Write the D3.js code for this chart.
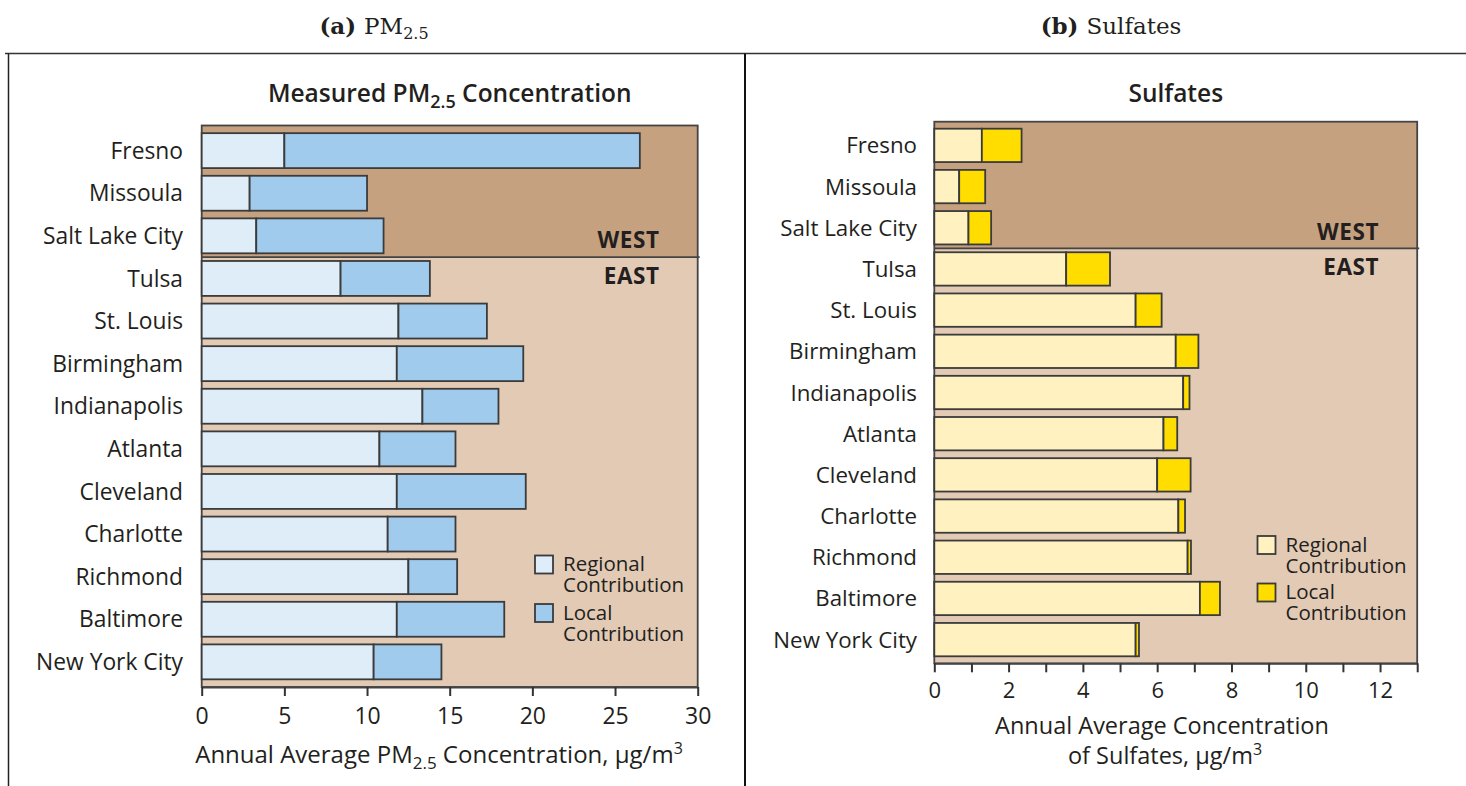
<!DOCTYPE html>
<html>
<head>
<meta charset="utf-8">
<script src="https://cdn.jsdelivr.net/npm/d3@7"></script>
<style>
  html, body { margin: 0; padding: 0; background: #fff; }
  svg { display: block; }
  text { fill: #231f20; }
</style>
</head>
<body>
<svg id="fig" width="1466" height="786"></svg>
<script>
// Cities, ordered top to bottom; the first three are western sites.
const cities = ["Fresno", "Missoula", "Salt Lake City", "Tulsa", "St. Louis", "Birmingham",
  "Indianapolis", "Atlanta", "Cleveland", "Charlotte", "Richmond", "Baltimore", "New York City"];
const westCount = 3;

// PM2.5, annual average, µg/m3
const pmRegional = [5.0, 2.9, 3.3, 8.4, 11.9, 11.8, 13.35, 10.75, 11.8, 11.25, 12.5, 11.8, 10.4];
const pmLocal    = [21.5, 7.1, 7.7, 5.4, 5.35, 7.65, 4.6, 4.6, 7.8, 4.1, 2.95, 6.5, 4.1];
const pmTicks = [0, 5, 10, 15, 20, 25, 30];

// Sulfates, annual average, µg/m3
const soRegional = [1.28, 0.67, 0.92, 3.55, 5.42, 6.5, 6.7, 6.17, 6.0, 6.57, 6.82, 7.15, 5.42];
const soLocal    = [1.07, 0.70, 0.61, 1.18, 0.70, 0.61, 0.17, 0.37, 0.90, 0.18, 0.09, 0.54, 0.09];
const soTicks = [0, 1, 2, 3, 4, 5, 6, 7, 8, 9, 10, 11, 12, 13];

const legendLabels = [["Regional", "Contribution"], ["Local", "Contribution"]];

const svg = d3.select("#fig");
const SANS = "'Open Sans', 'Noto Sans', sans-serif";
const SERIF = "'DejaVu Serif', 'Liberation Serif', serif";
const INK = "#231f20";
const EDGE = "#3b3b3b";

// Figure frame and separators
svg.append("line").attr("x1", 5).attr("x2", 1466).attr("y1", 53.5).attr("y2", 53.5)
  .attr("stroke", "#333").attr("stroke-width", 1.5);
svg.append("line").attr("x1", 8.5).attr("x2", 8.5).attr("y1", 53.5).attr("y2", 786)
  .attr("stroke", "#222").attr("stroke-width", 1.5);
svg.append("line").attr("x1", 745).attr("x2", 745).attr("y1", 53.5).attr("y2", 786)
  .attr("stroke", "#111").attr("stroke-width", 2);

// Panel captions
function caption(cx, tag, parts) {
  const t = svg.append("text").attr("x", cx).attr("y", 34).attr("text-anchor", "middle")
    .style("font-family", SERIF).style("font-size", "23px");
  t.append("tspan").style("font-weight", "bold").text(tag + " ");
  parts.forEach(p => {
    const s = t.append("tspan").text(p.t);
    if (p.sub) s.attr("font-size", "16px").attr("dy", 5);
  });
}
caption(374, "(a)", [{ t: "PM" }, { t: "2.5", sub: true }]);
caption(1111, "(b)", [{ t: "Sulfates" }]);

function drawPanel(cfg) {
  const g = svg.append("g");
  const x = d3.scaleLinear().domain(cfg.domain).range([cfg.left, cfg.right]);
  const y = d3.scaleBand().domain(cities).range([cfg.top, cfg.bottom])
    .paddingInner(cfg.padIn).paddingOuter(cfg.padOut);
  const divY = y(cities[westCount]) - y.step() * cfg.padIn / 2;

  // West / East backgrounds
  g.append("rect").attr("x", cfg.left).attr("y", cfg.top)
    .attr("width", cfg.right - cfg.left).attr("height", divY - cfg.top).attr("fill", "#c5a17f");
  g.append("rect").attr("x", cfg.left).attr("y", divY)
    .attr("width", cfg.right - cfg.left).attr("height", cfg.bottom - divY).attr("fill", "#e2cab4");
  g.append("rect").attr("x", cfg.left).attr("y", cfg.top)
    .attr("width", cfg.right - cfg.left).attr("height", cfg.bottom - cfg.top)
    .attr("fill", "none").attr("stroke", "#444").attr("stroke-width", 1.8);
  g.append("line").attr("x1", cfg.left).attr("x2", cfg.right + 2).attr("y1", divY).attr("y2", divY)
    .attr("stroke", "#444").attr("stroke-width", 1.8);

  // Region labels
  const rx = cfg.right - 38;
  [["WEST", -8.8], ["EAST", 26.5]].forEach(([lab, off]) => {
    g.append("text").attr("x", rx).attr("y", divY + off).attr("text-anchor", "end")
      .style("font-family", SANS).style("font-weight", "bold").style("font-size", "22.5px")
      .style("letter-spacing", "0.6px").text(lab);
  });

  // Stacked bars
  const rows = cities.map((c, i) => ({ city: c, reg: cfg.regional[i], loc: cfg.local[i] }));
  const bars = g.selectAll("g.row").data(rows).join("g").attr("class", "row");
  bars.append("rect")
    .attr("x", x(0)).attr("y", d => y(d.city))
    .attr("width", d => x(d.reg) - x(0)).attr("height", y.bandwidth())
    .attr("fill", cfg.colors[0]).attr("stroke", EDGE).attr("stroke-width", 1.8);
  bars.append("rect")
    .attr("x", d => x(d.reg)).attr("y", d => y(d.city))
    .attr("width", d => x(d.reg + d.loc) - x(d.reg)).attr("height", y.bandwidth())
    .attr("fill", cfg.colors[1]).attr("stroke", EDGE).attr("stroke-width", 1.8);

  // City labels
  g.selectAll("text.city").data(cities).join("text").attr("class", "city")
    .attr("x", cfg.labelX).attr("y", d => y(d) + y.bandwidth() / 2).attr("dy", "0.36em")
    .attr("text-anchor", "end").style("font-family", SANS).style("font-size", cfg.cityFont).text(d => d);

  // Bottom axis
  const ax = g.append("g").attr("transform", `translate(0,${cfg.bottom})`)
    .call(d3.axisBottom(x).tickValues(cfg.ticks).tickSize(9).tickSizeOuter(0)
      .tickPadding(cfg.tickPad).tickFormat(cfg.tickFormat));
  ax.select(".domain").attr("stroke", "#444").attr("stroke-width", 1.8);
  ax.selectAll(".tick line").attr("stroke", "#333").attr("stroke-width", 2);
  ax.selectAll(".tick text").attr("fill", INK)
    .style("font-family", SANS).style("font-size", cfg.tickFont);

  // Chart title
  const tt = g.append("text").attr("x", (cfg.left + cfg.right) / 2).attr("y", 102)
    .attr("text-anchor", "middle").style("font-family", SANS).style("font-weight", 600)
    .style("font-size", "24.5px");
  cfg.title.forEach(p => {
    const s = tt.append("tspan").text(p.t);
    if (p.sub) s.attr("font-size", "18px").attr("dy", 6);
    if (p.after) s.attr("dy", -6);
  });

  // Axis title lines
  cfg.axisTitle.forEach(line => {
    const t = g.append("text").attr("x", line.x).attr("y", line.y).attr("text-anchor", "middle")
      .style("font-family", SANS).style("font-size", cfg.axisFont);
    line.parts.forEach(p => {
      const s = t.append("tspan").text(p.t);
      if (p.sub) s.attr("font-size", "17px").attr("dy", 6);
      if (p.sup) s.attr("font-size", "16px").attr("dy", p.dy);
      if (p.dy && !p.sup) s.attr("dy", p.dy);
    });
  });

  // Legend: swatch plus a two-line label
  const lg = g.append("g").attr("transform", `translate(${cfg.legend.x},${cfg.legend.y})`);
  legendLabels.forEach((lab, i) => {
    const oy = i * cfg.legend.gap;
    lg.append("rect").attr("x", 0).attr("y", oy).attr("width", 18).attr("height", 18)
      .attr("fill", cfg.colors[i]).attr("stroke", EDGE).attr("stroke-width", 1.8);
    const t = lg.append("text").attr("x", 28).attr("y", oy + 15.5)
      .style("font-family", SANS).style("font-size", "20.5px");
    lab.forEach((s, j) => {
      t.append("tspan").attr("x", 28).attr("dy", j === 0 ? 0 : 21).text(s);
    });
  });
}

drawPanel({
  domain: [0, 30], left: 201.7, right: 697.7, top: 125.5, bottom: 687,
  padIn: 0.18, padOut: 0.18, regional: pmRegional, local: pmLocal,
  colors: ["#dfedf8", "#a0cbed"], labelX: 183, cityFont: "22.8px",
  ticks: pmTicks, tickPad: 12, tickFormat: d3.format("d"), tickFont: "23px",
  title: [{ t: "Measured PM" }, { t: "2.5", sub: true }, { t: " Concentration", after: true }],
  axisFont: "24px",
  axisTitle: [{ x: 439, y: 763, parts: [
    { t: "Annual Average PM" }, { t: "2.5", sub: true }, { t: " Concentration, \u03bcg/m", dy: -6 },
    { t: "3", sup: true, dy: -9 }] }],
  legend: { x: 535, y: 555.5, gap: 48.5 }
});

drawPanel({
  domain: [0, 13], left: 934.3, right: 1417.2, top: 121.7, bottom: 663.3,
  padIn: 0.19, padOut: 0.17, regional: soRegional, local: soLocal,
  colors: ["#fff2c0", "#ffdd00"], labelX: 917, cityFont: "22.3px",
  ticks: soTicks, tickPad: 10, tickFormat: d => (d % 2 === 0 && d <= 12 ? d : ""), tickFont: "22px",
  title: [{ t: "Sulfates" }],
  axisFont: "23.5px",
  axisTitle: [
    { x: 1162, y: 734, parts: [{ t: "Annual Average Concentration" }] },
    { x: 1165, y: 764, parts: [{ t: "of Sulfates, \u03bcg/m" }, { t: "3", sup: true, dy: -9 }] }],
  legend: { x: 1257.5, y: 536, gap: 47.5 }
});
</script>
</body>
</html>
